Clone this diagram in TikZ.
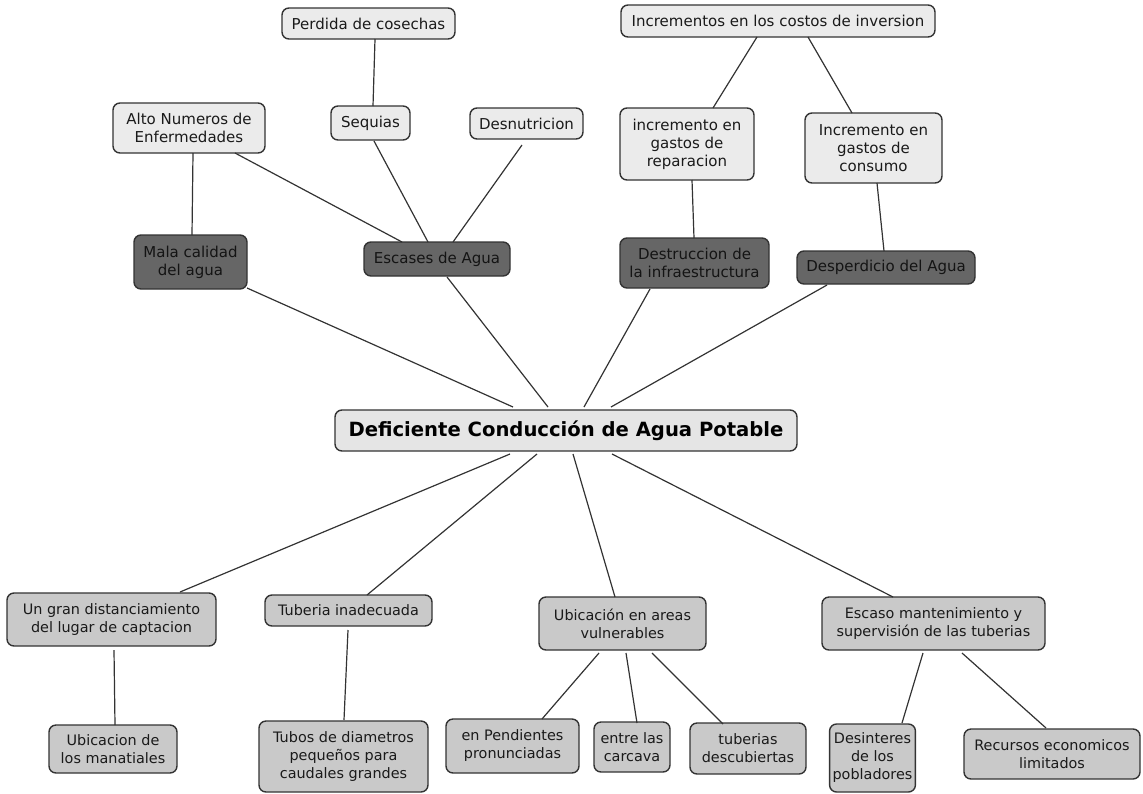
\documentclass[tikz,border=0pt]{standalone}
\usepackage{fontspec}
\setmainfont{DejaVu Sans}
\usetikzlibrary{calc}
\definecolor{edgegray}{HTML}{333333}
\definecolor{lightfill}{HTML}{EBEBEB}
\definecolor{darkfill}{HTML}{666666}
\definecolor{midfill}{HTML}{C9C9C9}
\definecolor{corefill}{HTML}{E5E5E5}
\definecolor{inkgray}{HTML}{1A1A1A}
\tikzset{
  concept/.style={draw=edgegray, line width=1.4pt, rounded corners=7pt,
    align=center, inner xsep=3pt, inner ysep=2pt, text=inkgray,
    font=\fontsize{15}{18}\selectfont},
  effect/.style={concept, fill=lightfill},
  cause/.style={concept, fill=midfill, font=\fontsize{14.4}{18}\selectfont},
  branch/.style={concept, fill=darkfill, text=black!92},
  core/.style={concept, fill=corefill, text=black,
    font=\fontsize{19.6}{22}\selectfont\bfseries},
  link/.style={draw=edgegray, line width=1.2pt},
}
\begin{document}
\begin{tikzpicture}[x=1pt,y=-1pt]
\useasboundingbox (0,0) rectangle (1143,793);

% upper effects
\node[effect, minimum width=173pt, minimum height=31pt] (perd) at (368.5,23.5) {Perdida de cosechas};
\node[effect, minimum width=314pt, minimum height=32pt] (incr) at (778,21) {Incrementos en los costos de inversion};
\node[effect, minimum width=152pt, minimum height=50pt] (alto) at (189,128) {Alto Numeros de\\Enfermedades};
\node[effect, minimum width=79pt, minimum height=34pt] (seq) at (370.5,123) {Sequias};
\node[effect, minimum width=113pt, minimum height=31pt] (desn) at (526.5,123.5) {Desnutricion};
\node[effect, minimum width=134pt, minimum height=72pt] (repa) at (687,144) {incremento en\\gastos de\\reparacion};
\node[effect, minimum width=137pt, minimum height=70pt] (cons) at (873.5,148) {Incremento en\\gastos de\\consumo};

% direct effects
\node[branch, minimum width=113pt, minimum height=54pt] (mala) at (190.5,262) {Mala calidad\\del agua};
\node[branch, minimum width=146pt, minimum height=34pt] (esca) at (437,259) {Escases de Agua};
\node[branch, minimum width=149pt, minimum height=50pt] (dest) at (694.5,263) {Destruccion de\\la infraestructura};
\node[branch, minimum width=178pt, minimum height=33pt] (desp) at (886,267.5) {Desperdicio del Agua};

% central problem
\node[core, minimum width=462pt, minimum height=41pt] (core) at (566,430.5) {Deficiente Conducción de Agua Potable};

% causes
\node[cause, minimum width=209pt, minimum height=53pt] (dist) at (111.5,619.5) {Un gran distanciamiento\\del lugar de captacion};
\node[cause, minimum width=167pt, minimum height=31pt] (tub) at (348.5,610.5) {Tuberia inadecuada};
\node[cause, minimum width=167pt, minimum height=53pt] (ubic) at (622.5,623.5) {Ubicación en areas\\vulnerables};
\node[cause, minimum width=223pt, minimum height=53pt] (esc) at (933.5,623.5) {Escaso mantenimiento y\\supervisión de las tuberias};

% root causes
\node[cause, minimum width=128pt, minimum height=48pt] (mana) at (113,749) {Ubicacion de\\los manatiales};
\node[cause, minimum width=169pt, minimum height=71pt] (diam) at (343.5,756.5) {Tubos de diametros\\pequeños para\\caudales grandes};
\node[cause, minimum width=133pt, minimum height=54pt] (pend) at (512.5,746) {en Pendientes\\pronunciadas};
\node[cause, minimum width=76pt, minimum height=50pt] (entre) at (632,747) {entre las\\carcava};
\node[cause, minimum width=116pt, minimum height=51pt] (desc) at (748,748.5) {tuberias\\descubiertas};
\node[cause, minimum width=79pt, minimum height=68pt] (desi) at (872.5,758) {Desinteres\\de los\\pobladores};
\node[cause, minimum width=176pt, minimum height=50pt] (recu) at (1052,754) {Recursos economicos\\limitados};

% connectors among the effects
\draw[link] ($(perd.center)+(6.5,15.5)$) -- ($(seq.center)+(2.5,-17)$);
\draw[link] ($(alto.center)+(4,25)$) -- ($(mala.center)+(1.5,-27)$);
\draw[link] ($(alto.center)+(46,25)$) -- ($(esca.center)+(-35,-17)$);
\draw[link] ($(seq.center)+(3.5,18)$) -- ($(esca.center)+(-9,-17)$);
\draw[link] ($(desn.center)+(-4.5,21.5)$) -- ($(esca.center)+(16,-17)$);
\draw[link] ($(incr.center)+(-21,16)$) -- ($(repa.center)+(26,-36)$);
\draw[link] ($(incr.center)+(30,16)$) -- ($(cons.center)+(-21.5,-35)$);
\draw[link] ($(repa.center)+(5,36)$) -- ($(dest.center)+(-0.5,-25)$);
\draw[link] ($(cons.center)+(3.5,35)$) -- ($(desp.center)+(-2,-16.5)$);

% connectors to the central problem
\draw[link] ($(mala.center)+(56.5,26)$) -- ($(core.center)+(-53,-23.5)$);
\draw[link] ($(esca.center)+(10,18)$) -- ($(core.center)+(-18,-23.5)$);
\draw[link] ($(dest.center)+(-44.5,26)$) -- ($(core.center)+(18,-23.5)$);
\draw[link] ($(desp.center)+(-59,17.5)$) -- ($(core.center)+(45,-23.5)$);
\draw[link] ($(core.center)+(-56,23.5)$) -- ($(dist.center)+(68.5,-27.5)$);
\draw[link] ($(core.center)+(-29,23.5)$) -- ($(tub.center)+(18.5,-15.5)$);
\draw[link] ($(core.center)+(7,23.5)$) -- ($(ubic.center)+(-7.5,-26.5)$);
\draw[link] ($(core.center)+(46,23.5)$) -- ($(esc.center)+(-40.5,-26.5)$);

% connectors among the causes
\draw[link] ($(dist.center)+(2.5,30.5)$) -- ($(mana.center)+(2,-24)$);
\draw[link] ($(tub.center)+(-0.5,19.5)$) -- ($(diam.center)+(0.5,-36.5)$);
\draw[link] ($(ubic.center)+(-23.5,29.5)$) -- ($(pend.center)+(29.5,-27)$);
\draw[link] ($(ubic.center)+(3.5,29.5)$) -- ($(entre.center)+(5,-24)$);
\draw[link] ($(ubic.center)+(29.5,29.5)$) -- ($(desc.center)+(-25,-24.5)$);
\draw[link] ($(esc.center)+(-10.5,29.5)$) -- ($(desi.center)+(29.5,-35)$);
\draw[link] ($(esc.center)+(28.5,29.5)$) -- ($(recu.center)+(-6,-26)$);
\end{tikzpicture}
\end{document}
